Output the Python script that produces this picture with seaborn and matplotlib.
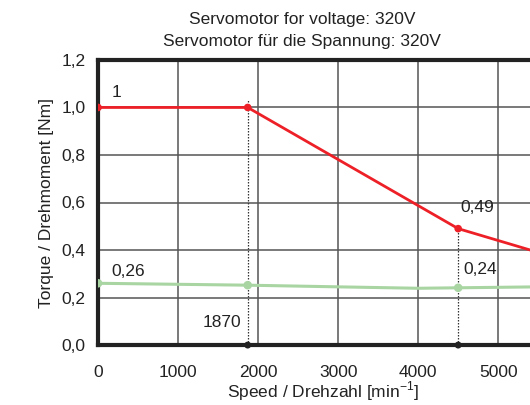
import matplotlib
matplotlib.use("Agg")
import matplotlib.pyplot as plt
import seaborn as sns
import pandas as pd

# data
rated_speed = [0, 1870, 4500, 5000, 5500, 6000]
peak_torque = [1.0, 1.0, 0.49, 0.44, 0.39, 0.35]
cont_speed = [0, 1870, 3000, 4000, 4500, 5500, 6000]
cont_torque = [0.26, 0.252, 0.245, 0.239, 0.241, 0.245, 0.245]
marker_speed = [0, 1870, 4500]
marker_peak = [1.0, 1.0, 0.49]
marker_cont = [0.26, 0.252, 0.241]
corner_speed = [1870, 4500]
corner_top = [1.03, 0.49]

x_ticks = [0, 1000, 2000, 3000, 4000, 5000]
y_ticks = [0.0, 0.2, 0.4, 0.6, 0.8, 1.0, 1.2]
y_labels = ["0,0", "0,2", "0,4", "0,6", "0,8", "1,0", "1,2"]

sns.set_style("white")
plt.rcParams["font.family"] = ["Liberation Sans", "DejaVu Sans"]
fs = 12.5
tc = "#222222"

fig = plt.figure(figsize=(5.3, 4.05), dpi=100)
ax = fig.add_axes([0.185, 0.148, 0.906, 0.704])

peak = pd.DataFrame({"speed": rated_speed, "torque": peak_torque})
cont = pd.DataFrame({"speed": cont_speed, "torque": cont_torque})

# dotted guides at the corner speeds
for xs, ytop in zip(corner_speed, corner_top):
    ax.plot([xs, xs], [0, ytop], color="#333333", lw=0.9, ls=(0, (1.2, 1.2)), zorder=3)

sns.lineplot(data=cont, x="speed", y="torque", color="#a8d5a2", lw=2.2, ax=ax, zorder=4)
sns.lineplot(data=peak, x="speed", y="torque", color="#ee2027", lw=2.0, ax=ax, zorder=5)
sns.scatterplot(x=marker_speed, y=marker_cont, color="#a8d5a2", s=38, edgecolor="none", ax=ax, zorder=6)
sns.scatterplot(x=marker_speed, y=marker_peak, color="#ee2027", s=30, edgecolor="none", ax=ax, zorder=7)
sns.scatterplot(x=corner_speed, y=[0, 0], color="#222222", s=25, edgecolor="none", ax=ax, zorder=8, clip_on=False)

ax.set_xlim(0, 6000)
ax.set_ylim(0, 1.2)
ax.set_xticks(x_ticks + [6000])
ax.set_xticklabels([str(t) for t in x_ticks] + [""])
ax.set_yticks(y_ticks)
ax.set_yticklabels(y_labels)
ax.tick_params(axis="x", length=0, pad=14, labelsize=fs, colors=tc)
ax.tick_params(axis="y", length=0, pad=9, labelsize=fs, colors=tc)
ax.grid(True, color="#555555", lw=1.1)

for side in ["left", "bottom", "top"]:
    ax.spines[side].set_color(tc)
    ax.spines[side].set_linewidth(3)
ax.spines["right"].set_visible(False)

ax.set_xlabel("")
ax.set_ylabel("Torque / Drehmoment [Nm]", fontsize=fs, color=tc, labelpad=5)
fig.text(0.61, 0.006, "Speed / Drehzahl [min$^{\\mathregular{-1}}$]", ha="center", va="bottom",
         fontsize=fs, color=tc)

fig.text(0.57, 0.952, "Servomotor for voltage: 320V", ha="center", va="center",
         fontsize=fs, color=tc)
fig.text(0.57, 0.898, "Servomotor für die Spannung: 320V", ha="center", va="center",
         fontsize=fs, color=tc)

ax.text(170, 1.065, "1", fontsize=fs, color=tc, va="center")
ax.text(170, 0.31, "0,26", fontsize=fs, color=tc, va="center")
ax.text(1790, 0.095, "1870", fontsize=fs, color=tc, va="center", ha="right")
ax.text(4530, 0.58, "0,49", fontsize=fs, color=tc, va="center")
ax.text(4560, 0.32, "0,24", fontsize=fs, color=tc, va="center")

fig.savefig("out.png", dpi=100)
